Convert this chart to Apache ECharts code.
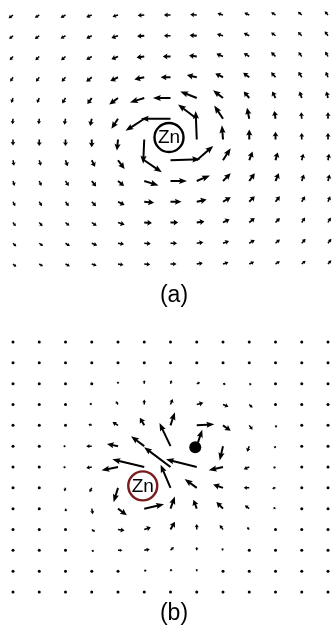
<!DOCTYPE html>
<html>
<head>
<meta charset="utf-8">
<script src="https://cdn.jsdelivr.net/npm/echarts@6/dist/echarts.min.js"></script>
<style>html,body{margin:0;padding:0;background:#fff}#c{width:332px;height:631px}</style>
</head>
<body>
<div id="c"></div>
<script>
// grid columns / rows (index positions)
const cols = [0,1,2,3,4,5,6,7,8,9,10,11,12];
const rows = [0,1,2,3,4,5,6,7,8,9,10,11,12];

// Panel (a): vector field components (u to the right, v downward), rows top->bottom
const aU = [
[-4,-4,-4.5,-5,-5,-6,-6,-6,-5,-4.5,-4,-3.5,-3],
[-3.5,-4,-4.5,-5,-6,-6.5,-6,-6.5,-5.5,-5,-4,-3.5,-3],
[-3,-3.5,-4,-5,-6,-7,-7,-7,-6,-5,-4,-3,-2.5],
[-2.5,-3,-3.5,-5,-7,-9,-9,-9,-7,-5.5,-4,-3,-2],
[-1.5,-2,-3,-4,-8,-13,-16,-15,-9,-5,-3,-2,-1.5],
[-0.5,-0.5,-1,-1.5,-6,-17,-27,-17,-8,-2,-1,-0.5,0],
[0,0,0,0,-1,-1,null,-1,-1,0,0,0,0],
[1,1.5,2,3,6,16,27,15,7,3,2,1.5,1],
[1.5,2,3,4,5.5,13,15,12,7,5,3,2,1.5],
[2,2.5,3,4,6,9,10,9,7,5,4,3,2],
[2.5,3,3.5,4.5,6,7,7,7,6,5,4,3,2.5],
[3,3.5,4,5,5.5,6,6,6,5.5,5,4,3.5,3],
[3,3.5,4,4.5,5,5.5,5.5,5.5,5,4.5,4,3.5,3]
];
const aV = [
[3,2.5,2.5,2,1.5,0.5,0,-0.5,-1.5,-2,-2.5,-3,-3.5],
[3,3,2.5,2.5,2,0.5,0,-0.5,-1.5,-2.5,-3,-3.5,-4],
[3.5,3.5,3.5,3,2.5,1,0,-1,-2.5,-3,-4,-4,-4.5],
[4,4,4,4,3.5,2,0,-2,-3.5,-4,-4.5,-5,-5],
[4.5,4.5,5,5.5,6,4,0,-6,-7,-6,-6,-6,-6],
[5,5,5.5,6.5,9,11,0,-13,-12,-10,-7,-6,-6],
[5.5,6,6,7,10,22,null,-26,-13,-9,-7,-6,-6],
[5,5,5.5,6,8,11,-1,-13,-11,-8,-7,-6,-6],
[4.5,4.5,4.5,5,4.5,4,0,-5,-7,-7,-7,-6,-6],
[4,4,4,4,3,1,0,-2,-4,-5,-5,-5,-5],
[3.5,3.5,3,3,2,0.5,0,-1,-3,-4,-4,-4.5,-4.5],
[3,2.5,2.5,2,1,0.5,0,-1,-2,-3,-3.5,-4,-4],
[2.5,2,2,1.5,1,0.5,0,-1,-1.5,-2,-2.5,-3,-3.5]
];

// Panel (b)
const bU = [
[0,0,0,0,0,0,0,0,0,0,0,0,0],
[0,0,0,0,0,0,1,1.5,1,0.5,0,0,0],
[0,0,0,0,0,0,1,3,2.5,2,1,0.5,0],
[0,0,-1,-2,-2,0,2,6,5,3,1,0.5,0],
[0,0,-1,-3,-5,-4,4,16,7,3,1,0.5,0],
[0,-1,-2,-5,-10,-12,-10,5,-3,-2,-1,0,0],
[0,-1,-2,-5,-15,-29,-24,-28,-13,-5,-2,-1,0],
[0,0,-1,-2,-4,null,-9,-11,-9,-5,-3,-1,0],
[0,0,0.5,1,8,18,4,-3,-6,-4,-2,-1,0],
[0,0,0.5,3,6,6,4,0,-3,-2,-1,0,0],
[0,0,1,2,4,5,3,0,-1,-1,0,0,0],
[0,0,0,0,1,2,1,0,0,0,0,0,0],
[0,0,0,0,0,0,0,0,0,0,0,0,0]
];
const bV = [
[0,0,0,0,0,0,0,0,0,0,0,0,0],
[0,0,0,0,0,-1,-1.5,0,0.5,0.5,0,0,0],
[0,0,0,-1,-2,-3,-3,-1,0.5,1,1,0.5,0],
[0,0,-0.5,-1,-3,-4.5,-5,-1.5,2,3,1.5,0.5,0],
[0,0,0,-1,-3,-7,-12,-1,5,4,2,0.5,0],
[0,0,0,0,-2,-9,-21,-15,13,5,2,1,0],
[0,0,0.5,1,3,-7,-18,-7,3,2,1,0.5,0],
[0,-1,3,4,13,null,-21,-8,-3,0,0.5,0,0],
[0,1,2.5,5,6,-4,-11,-8,-6,-3,-1,0,0],
[0,0,1.5,2,1,-2,-7,-5,-4,-2,-1,0,0],
[0,0,0.5,1,0,-1,-3,-3,-2,-1,0,0,0],
[0,0,0,0,0,-1,-2,-2,-1,0,0,0,0],
[0,0,0,0,0,0,0,0,0,0,0,0,0]
];

// atoms
const znA = [6, 6];
const znB = [5, 7];
const particleB = [7, 5];
const labels = ['(a)', '(b)'];

function flatten(U, V) {
  const out = [];
  rows.forEach(j => cols.forEach(i => {
    if (U[j][i] === null) return;
    out.push([i, j, U[j][i], V[j][i]]);
  }));
  return out;
}

const K = 1.1; // px per field unit
function renderArrow(params, api) {
  const p = api.coord([api.value(0), api.value(1)]);
  const dx = api.value(2) * K, dy = api.value(3) * K;
  const L = Math.hypot(dx, dy);
  const W = 2, HL = 8, HAL = 7, HW = 6.2;
  if (L < 2) {
    return {type: 'circle', shape: {cx: p[0], cy: p[1], r: 1.5}, style: {fill: '#000'}};
  }
  const f = Math.min(1, L / HL);
  const w = Math.max(1.5, W * f);
  const hl = Math.min(HL, 0.6 * L);
  const hal = hl * HAL / HL;
  const hw = Math.max(3.4, HW * f);
  const ux = dx / L, uy = dy / L, nx = -uy, ny = ux;
  const loc = [[0, -w/2], [L - hal, -w/2], [L - hl, -hw/2], [L, 0], [L - hl, hw/2], [L - hal, w/2], [0, w/2]];
  const pts = loc.map(([a, b]) => [p[0] + ux * a + nx * b, p[1] + uy * a + ny * b]);
  return {type: 'polygon', shape: {points: pts}, style: {fill: '#000'}};
}

function znRender(color) {
  return function (params, api) {
    const p = api.coord([api.value(0), api.value(1)]);
    return {
      type: 'group',
      children: [
        {type: 'circle', shape: {cx: p[0] - 1.5, cy: p[1] - 2, r: 14.5}, style: {fill: '#fff', stroke: color, lineWidth: 2.4}},
        {type: 'text', x: p[0] - 1.5, y: p[1] - 1.5, style: {text: 'Zn', fill: '#000', font: '19px "Liberation Sans", Arial, sans-serif', align: 'center', verticalAlign: 'middle'}}
      ]
    };
  };
}

function particleRender(params, api) {
  const p = api.coord([api.value(0), api.value(1)]);
  return {type: 'circle', shape: {cx: p[0] - 1.5, cy: p[1] + 1, r: 6}, style: {fill: '#000'}};
}

const axisCommon = {type: 'value', min: 0, max: 12, show: false};

const chart = echarts.init(document.getElementById('c'), null, {renderer: 'canvas'});
chart.setOption({
  animation: false,
  backgroundColor: '#fff',
  grid: [
    {left: 13, right: 4, top: 15, bottom: 367},
    {left: 13, right: 4, top: 342, bottom: 39}
  ],
  xAxis: [Object.assign({gridIndex: 0}, axisCommon), Object.assign({gridIndex: 1}, axisCommon)],
  yAxis: [Object.assign({gridIndex: 0, inverse: true}, axisCommon), Object.assign({gridIndex: 1, inverse: true}, axisCommon)],
  graphic: [
    {type: 'text', x: 174, y: 296, style: {text: labels[0], font: '23px "Liberation Sans", Arial, sans-serif', fill: '#000', align: 'center', verticalAlign: 'middle'}},
    {type: 'text', x: 174, y: 614, style: {text: labels[1], font: '23px "Liberation Sans", Arial, sans-serif', fill: '#000', align: 'center', verticalAlign: 'middle'}}
  ],
  series: [
    {type: 'custom', xAxisIndex: 0, yAxisIndex: 0, renderItem: renderArrow, data: flatten(aU, aV), silent: true, z: 2},
    {type: 'custom', xAxisIndex: 1, yAxisIndex: 1, renderItem: renderArrow, data: flatten(bU, bV), silent: true, z: 2},
    {type: 'custom', xAxisIndex: 0, yAxisIndex: 0, renderItem: znRender('#000'), data: [znA], silent: true, z: 3},
    {type: 'custom', xAxisIndex: 1, yAxisIndex: 1, renderItem: znRender('#7a1c1c'), data: [znB], silent: true, z: 3},
    {type: 'custom', xAxisIndex: 1, yAxisIndex: 1, renderItem: particleRender, data: [particleB], silent: true, z: 4}
  ]
});
</script>
</body>
</html>
